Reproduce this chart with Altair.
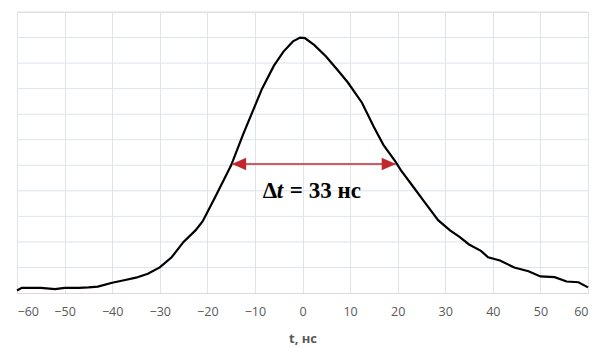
import altair as alt
import pandas as pd

# Pulse shape (t in ns, normalised amplitude)
t_vals = [-60, -59, -55, -52, -50, -47, -45, -43, -40, -37.5, -35, -32.5, -30, -27.5,
          -25, -22.5, -21, -18.5, -15, -12.5, -10.5, -8.5, -6, -4, -2, -0.5, 0.5, 2.5, 5,
          7.5, 9.5, 12.5, 15, 17, 19.5, 20.7, 23.5, 25.5, 28.5, 31, 33, 35, 37.5, 39,
          41.5, 44.5, 47.5, 50, 53, 55.5, 58, 60]
v_vals = [0.01, 0.02, 0.02, 0.015, 0.02, 0.02, 0.022, 0.025, 0.04, 0.05, 0.06, 0.075,
          0.10, 0.14, 0.20, 0.245, 0.28, 0.37, 0.50, 0.62, 0.71, 0.80, 0.89, 0.945, 0.985,
          1.0, 0.998, 0.97, 0.925, 0.87, 0.825, 0.745, 0.65, 0.58, 0.515, 0.48, 0.41,
          0.36, 0.285, 0.245, 0.22, 0.19, 0.165, 0.14, 0.127, 0.10, 0.085, 0.065, 0.062,
          0.045, 0.042, 0.022]

x_ticks = [-60, -50, -40, -30, -20, -10, 0, 10, 20, 30, 40, 50, 60]
y_grid = [0.1, 0.2, 0.3, 0.4, 0.5, 0.6, 0.7, 0.8, 0.9, 1.0, 1.1]

arrow_start = [-14.8]
arrow_end = [19.6]
arrow_level = [0.505]
label_pos = [2.6]
label_level = [0.40]

curve_df = pd.DataFrame({"t": t_vals, "v": v_vals})
grid_df = pd.DataFrame({"g": y_grid})
arrow_df = pd.DataFrame({"x1": arrow_start, "x2": arrow_end, "y": arrow_level})
lh_df = pd.DataFrame({"x": arrow_start, "y": arrow_level})
rh_df = pd.DataFrame({"x": arrow_end, "y": arrow_level})
lab_df = pd.DataFrame({"x": label_pos, "y": label_level})

grid_col = "#DDE4EA"
red = "#C1272D"

xs = alt.Scale(domain=[-60, 60], nice=False)
ys = alt.Scale(domain=[0, 1.1], nice=False)

x_axis = alt.Axis(values=x_ticks, title="t, нс", grid=True, gridColor=grid_col,
                  domain=True, domainColor="#E6D6D4", ticks=False,
                  labelColor="#595959", labelFont="Open Sans", labelFontSize=12.5,
                  labelPadding=12, titleColor="#595959", titleFont="Open Sans",
                  titleFontSize=13, titleFontWeight="bold", titlePadding=15)

hgrid = alt.Chart(grid_df).mark_rule(color=grid_col, strokeWidth=1).encode(
    y=alt.Y("g:Q", scale=ys, axis=None),
)

line = alt.Chart(curve_df).mark_line(color="black", strokeWidth=2.2).encode(
    x=alt.X("t:Q", scale=xs, axis=x_axis),
    y=alt.Y("v:Q", scale=ys, axis=None),
)

rule = alt.Chart(arrow_df).mark_rule(color=red, strokeWidth=1.5).encode(
    x=alt.X("x1:Q", scale=xs), x2="x2:Q", y=alt.Y("y:Q", scale=ys)
)

lhead = alt.Chart(lh_df).mark_point(shape="M-1,0L1,-0.9L1,0.9Z", filled=True, color=red,
                                    opacity=1, size=200, xOffset=7).encode(
    x=alt.X("x:Q", scale=xs), y=alt.Y("y:Q", scale=ys)
)
rhead = alt.Chart(rh_df).mark_point(shape="M1,0L-1,-0.9L-1,0.9Z", filled=True, color=red,
                                    opacity=1, size=200, xOffset=-7).encode(
    x=alt.X("x:Q", scale=xs), y=alt.Y("y:Q", scale=ys)
)

font = "Liberation Serif"
fs = 23
t1 = alt.Chart(lab_df).mark_text(text="Δ", font=font, fontSize=fs, fontWeight="bold",
                                 color="black", align="left", dx=-52).encode(
    x=alt.X("x:Q", scale=xs), y=alt.Y("y:Q", scale=ys))
t2 = alt.Chart(lab_df).mark_text(text="t", font=font, fontSize=fs, fontWeight="bold",
                                 fontStyle="italic", color="black", align="left",
                                 dx=-38).encode(
    x=alt.X("x:Q", scale=xs), y=alt.Y("y:Q", scale=ys))
t3 = alt.Chart(lab_df).mark_text(text="= 33 нс", font=font, fontSize=fs, fontWeight="bold",
                                 color="black", align="left", dx=-25).encode(
    x=alt.X("x:Q", scale=xs), y=alt.Y("y:Q", scale=ys))

chart = alt.layer(hgrid, line, rule, lhead, rhead, t1, t2, t3).properties(
    width=571, height=281,
    padding={"left": 9, "top": 4, "right": 2, "bottom": 60},
    autosize=alt.AutoSizeParams(type="none"),
).configure_view(stroke="#E6D6D4", strokeWidth=1).configure(background="white")

chart.save("out.html", embed_options={"renderer": "svg", "actions": False})
